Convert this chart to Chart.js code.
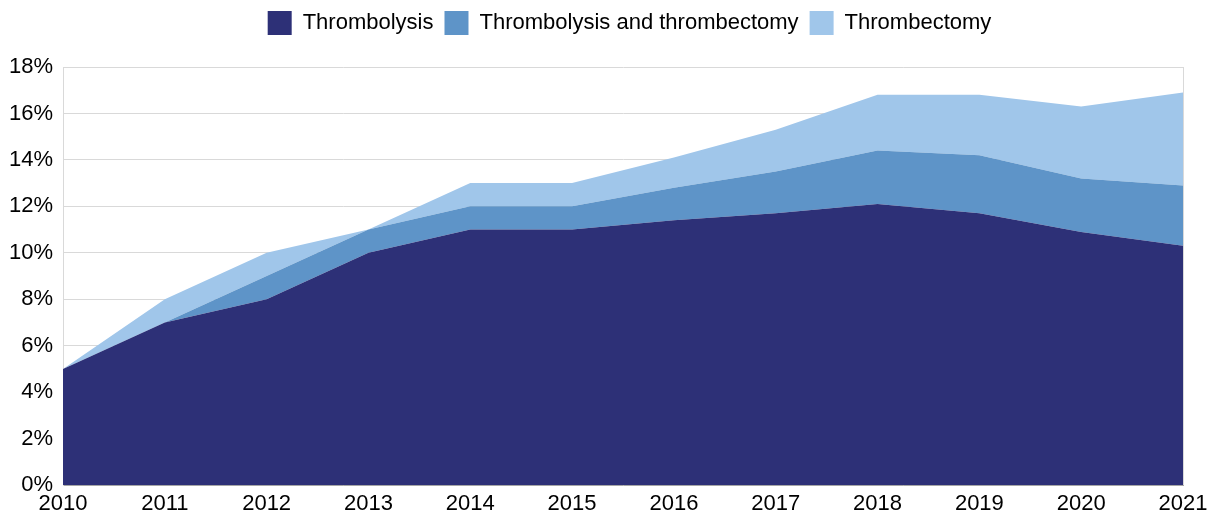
<!DOCTYPE html>
<html>
<head>
<meta charset="utf-8">
<script src="https://cdn.jsdelivr.net/npm/chart.js@4"></script>
<style>
  html, body { margin: 0; padding: 0; background: #fff; }
  #wrap { width: 1215px; height: 520px; }
</style>
</head>
<body>
<div id="wrap"><canvas id="strokeChart" width="1215" height="520"></canvas></div>
<script>
const years = ['2010', '2011', '2012', '2013', '2014', '2015', '2016', '2017', '2018', '2019', '2020', '2021'];
const thrombolysis = [5, 7, 8, 10, 11, 11, 11.4, 11.7, 12.1, 11.7, 10.9, 10.3];
const bothTreatments = [0, 0, 1, 1, 1, 1, 1.4, 1.8, 2.3, 2.5, 2.3, 2.6];
const thrombectomy = [0, 1, 1, 0, 1, 1, 1.3, 1.8, 2.4, 2.6, 3.1, 4.0];
const yTicks = [0, 2, 4, 6, 8, 10, 12, 14, 16, 18];

const gridGrey = '#d9d9d9';
const fontFamily = '"Liberation Sans", Arial, sans-serif';

// legend takes fixed height so the plot starts where the reference does,
// and is centred over the plot area rather than the whole canvas
const legendHeight = {
    id: 'legendHeight',
    beforeInit(chart) {
        const fit = chart.legend.fit;
        chart.legend.fit = function () {
            fit.bind(chart.legend)();
            this.height = 67;
        };
    },
    afterLayout(chart) {
        chart.legend.left += 38;
        chart.legend.right += 38;
    }
};

const ctx = document.getElementById('strokeChart').getContext('2d');

function areaSet(label, data, color, fill) {
    return {
        label: label,
        data: data,
        backgroundColor: color,
        borderColor: color,
        borderWidth: 0,
        pointRadius: 0,
        fill: fill,
        tension: 0
    };
}

new Chart(ctx, {
    type: 'line',
    data: {
        labels: years,
        datasets: [
            areaSet('Thrombolysis', thrombolysis, '#2d3077', 'origin'),
            areaSet('Thrombolysis and thrombectomy', bothTreatments, '#5e94c8', '-1'),
            areaSet('Thrombectomy', thrombectomy, '#a0c6ea', '-1')
        ]
    },
    options: {
        responsive: false,
        animation: false,
        layout: { padding: { left: 0, right: 32, top: 0, bottom: 0 } },
        plugins: {
            legend: {
                display: true,
                position: 'top',
                labels: {
                    boxWidth: 24,
                    boxHeight: 24,
                    padding: 11,
                    color: '#000',
                    font: { family: fontFamily, size: 22 }
                }
            },
            tooltip: { enabled: false }
        },
        scales: {
            x: {
                offset: false,
                ticks: {
                    color: '#000',
                    maxRotation: 0,
                    autoSkip: false,
                    padding: 6,
                    font: { family: fontFamily, size: 22 }
                },
                grid: {
                    color: (c) => c.index === years.length - 1 ? gridGrey : 'rgba(0,0,0,0)',
                    drawTicks: false
                },
                border: { color: '#a6a6a6', width: 1 },
                afterFit: (axis) => { axis.height = 35; }
            },
            y: {
                stacked: true,
                min: 0,
                max: 18,
                afterBuildTicks: (axis) => { axis.ticks = yTicks.map(v => ({ value: v })); },
                ticks: {
                    color: '#000',
                    padding: 10,
                    callback: (v) => v + '%',
                    font: { family: fontFamily, size: 22 }
                },
                grid: { color: gridGrey, drawTicks: false },
                border: { color: gridGrey },
                afterFit: (axis) => { axis.width = 63; }
            }
        }
    },
    plugins: [legendHeight]
});
</script>
</body>
</html>
